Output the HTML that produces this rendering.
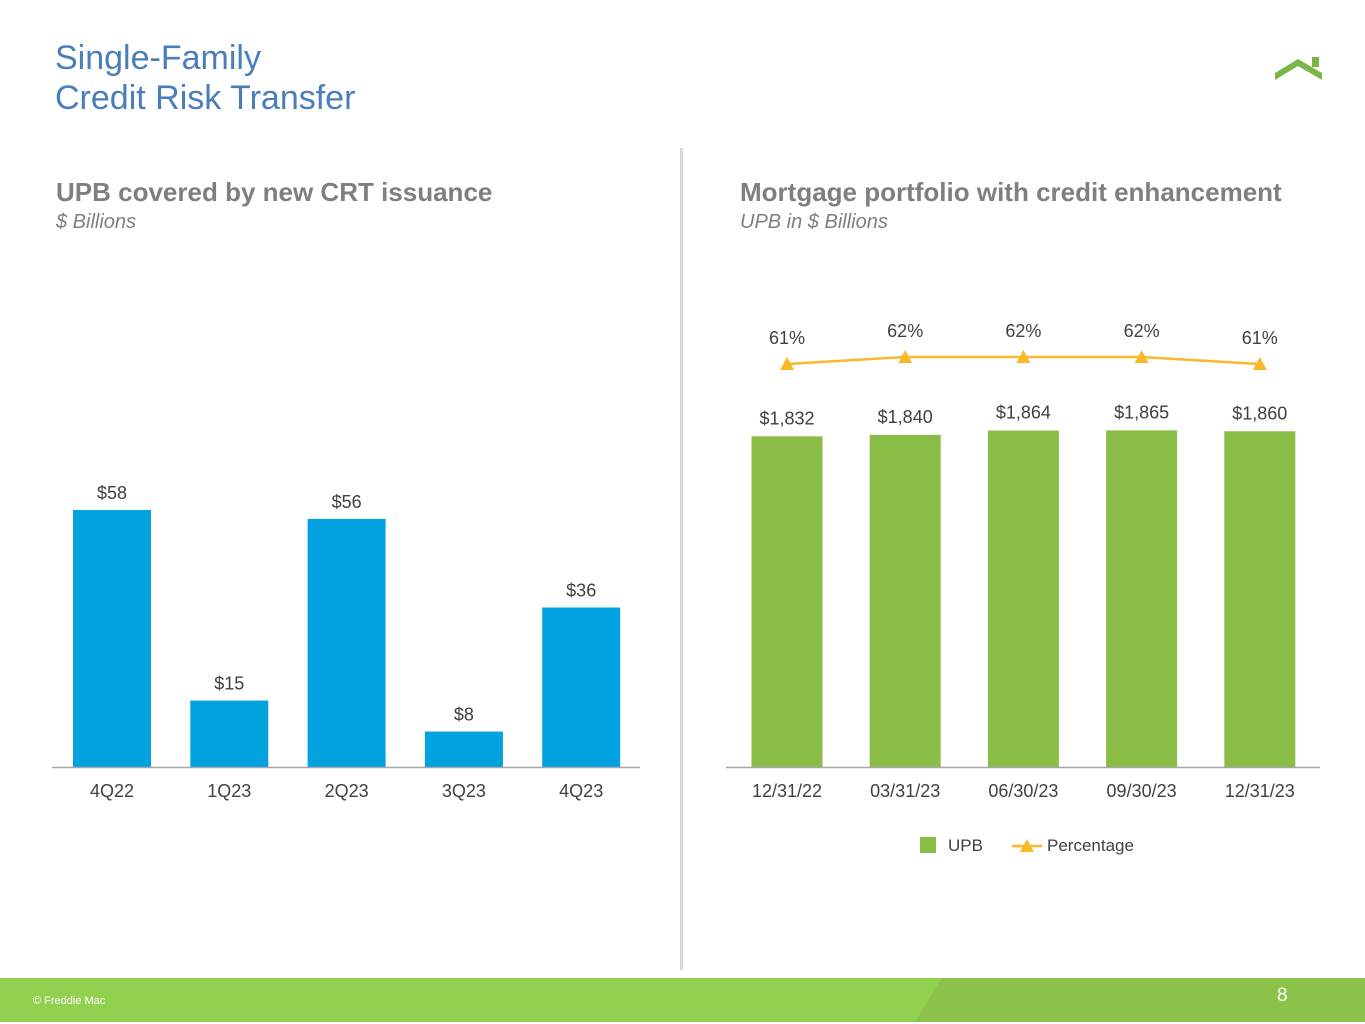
<!DOCTYPE html>
<html><head><meta charset="utf-8"><style>
body{margin:0;width:1365px;height:1024px;position:relative;background:#fff;font-family:"Liberation Sans",Arial,sans-serif;overflow:hidden}
.t{position:absolute;white-space:nowrap}
</style></head><body>
<div class="t" style="left:55px;top:38px;font-size:34px;line-height:40px;color:#4a7ebb">Single-Family<br>Credit Risk Transfer</div>
<svg style="position:absolute;left:1272px;top:54px" width="54" height="28"><polygon points="3,19 26,5 50,19 50,26 26,12 3,26" fill="#7ab648"/><rect x="40" y="3" width="7" height="10" fill="#7ab648"/></svg>
<div style="position:absolute;left:680px;top:148px;width:3px;height:822px;background:#d9d9d9"></div>
<div class="t" style="left:56px;top:177px;font-size:26px;font-weight:bold;color:#7f7f7f">UPB covered by new CRT issuance</div>
<div class="t" style="left:56px;top:211px;font-size:20px;font-style:italic;color:#7f7f7f">$ Billions</div>
<div class="t" style="left:740px;top:177px;font-size:26px;font-weight:bold;color:#7f7f7f">Mortgage portfolio with credit enhancement</div>
<div class="t" style="left:740px;top:211px;font-size:20px;font-style:italic;color:#7f7f7f">UPB in $ Billions</div>
<svg id="c" style="position:absolute;left:0;top:0" width="1365" height="1024"></svg>
<div style="position:absolute;left:0;top:978px;width:1365px;height:44px;background:#92d050"></div>
<svg style="position:absolute;left:0;top:978px" width="1365" height="44"><polygon points="942,0 1365,0 1365,44 915,44" fill="#8bc34a"/></svg>
<div class="t" style="left:33px;top:995px;font-size:11px;color:#fff">© Freddie Mac</div>
<div class="t" style="left:1277px;top:985px;font-size:19px;color:#fff">8</div>
<script>
const leftCats=["4Q22","1Q23","2Q23","3Q23","4Q23"];
const leftVals=[58,15,56,8,36];
const rightCats=["12/31/22","03/31/23","06/30/23","09/30/23","12/31/23"];
const rightUPB=[1832,1840,1864,1865,1860];
const rightPct=[61,62,62,62,61];
const NS="http://www.w3.org/2000/svg",svg=document.getElementById('c');
function mk(t,a,txt){const e=document.createElementNS(NS,t);for(const k in a)e.setAttribute(k,a[k]);if(txt!=null)e.textContent=txt;svg.appendChild(e);return e;}
const base=767;
const lx=i=>112+i*117.3, ly=v=>base-v*4.43;
leftVals.forEach((v,i)=>{
 let r=mk('rect',{x:lx(i)-39,y:ly(v),width:78,height:base-ly(v),fill:'#00a3e0'});
 
 
 let t=mk('text',{x:lx(i),y:ly(v)-11,'text-anchor':'middle','font-size':18,fill:'#404040'},'$'+v);
 
 
 let c=mk('text',{x:lx(i),y:797,'text-anchor':'middle','font-size':18,fill:'#404040'},leftCats[i]);
 
 
});
let a1=mk('line',{x1:52,x2:640,y1:base+0.5,y2:base+0.5,stroke:'#a6a6a6','stroke-width':1.5});


const rx=i=>787+i*118.2, ry=v=>base-v*0.1805, py=p=>364-(p-61)*7;
rightUPB.forEach((v,i)=>{
 let r=mk('rect',{x:rx(i)-35.5,y:ry(v),width:71,height:base-ry(v),fill:'#8abd45'});
 
 
 let t=mk('text',{x:rx(i),y:ry(v)-12,'text-anchor':'middle','font-size':18,fill:'#404040'},'$'+v.toLocaleString('en-US'));
 
 
 let c=mk('text',{x:rx(i),y:797,'text-anchor':'middle','font-size':18,fill:'#404040'},rightCats[i]);
 
 
});
let a2=mk('line',{x1:726,x2:1320,y1:base+0.5,y2:base+0.5,stroke:'#a6a6a6','stroke-width':1.5});


let pl=mk('polyline',{points:rightPct.map((p,i)=>rx(i)+','+py(p)).join(' '),fill:'none',stroke:'#fbb829','stroke-width':2.5});


rightPct.forEach((p,i)=>{
 let m=mk('polygon',{points:`${rx(i)-7},${py(p)+6} ${rx(i)+7},${py(p)+6} ${rx(i)},${py(p)-7}`,fill:'#fbb829'});
 
 
 let t=mk('text',{x:rx(i),y:py(p)-20,'text-anchor':'middle','font-size':18,fill:'#404040'},p+'%');
 
 
});
let l1=mk('rect',{x:920,y:837,width:16,height:16,fill:'#8abd45'});


let l2=mk('text',{x:948,y:851,'font-size':17,fill:'#404040'},'UPB');


let l3=mk('line',{x1:1012,x2:1042,y1:846,y2:846,stroke:'#fbb829','stroke-width':2.5});


let l4=mk('polygon',{points:'1020,852 1034,852 1027,839',fill:'#fbb829'});


let l5=mk('text',{x:1047,y:851,'font-size':17,fill:'#404040'},'Percentage');


</script>
</body></html>
